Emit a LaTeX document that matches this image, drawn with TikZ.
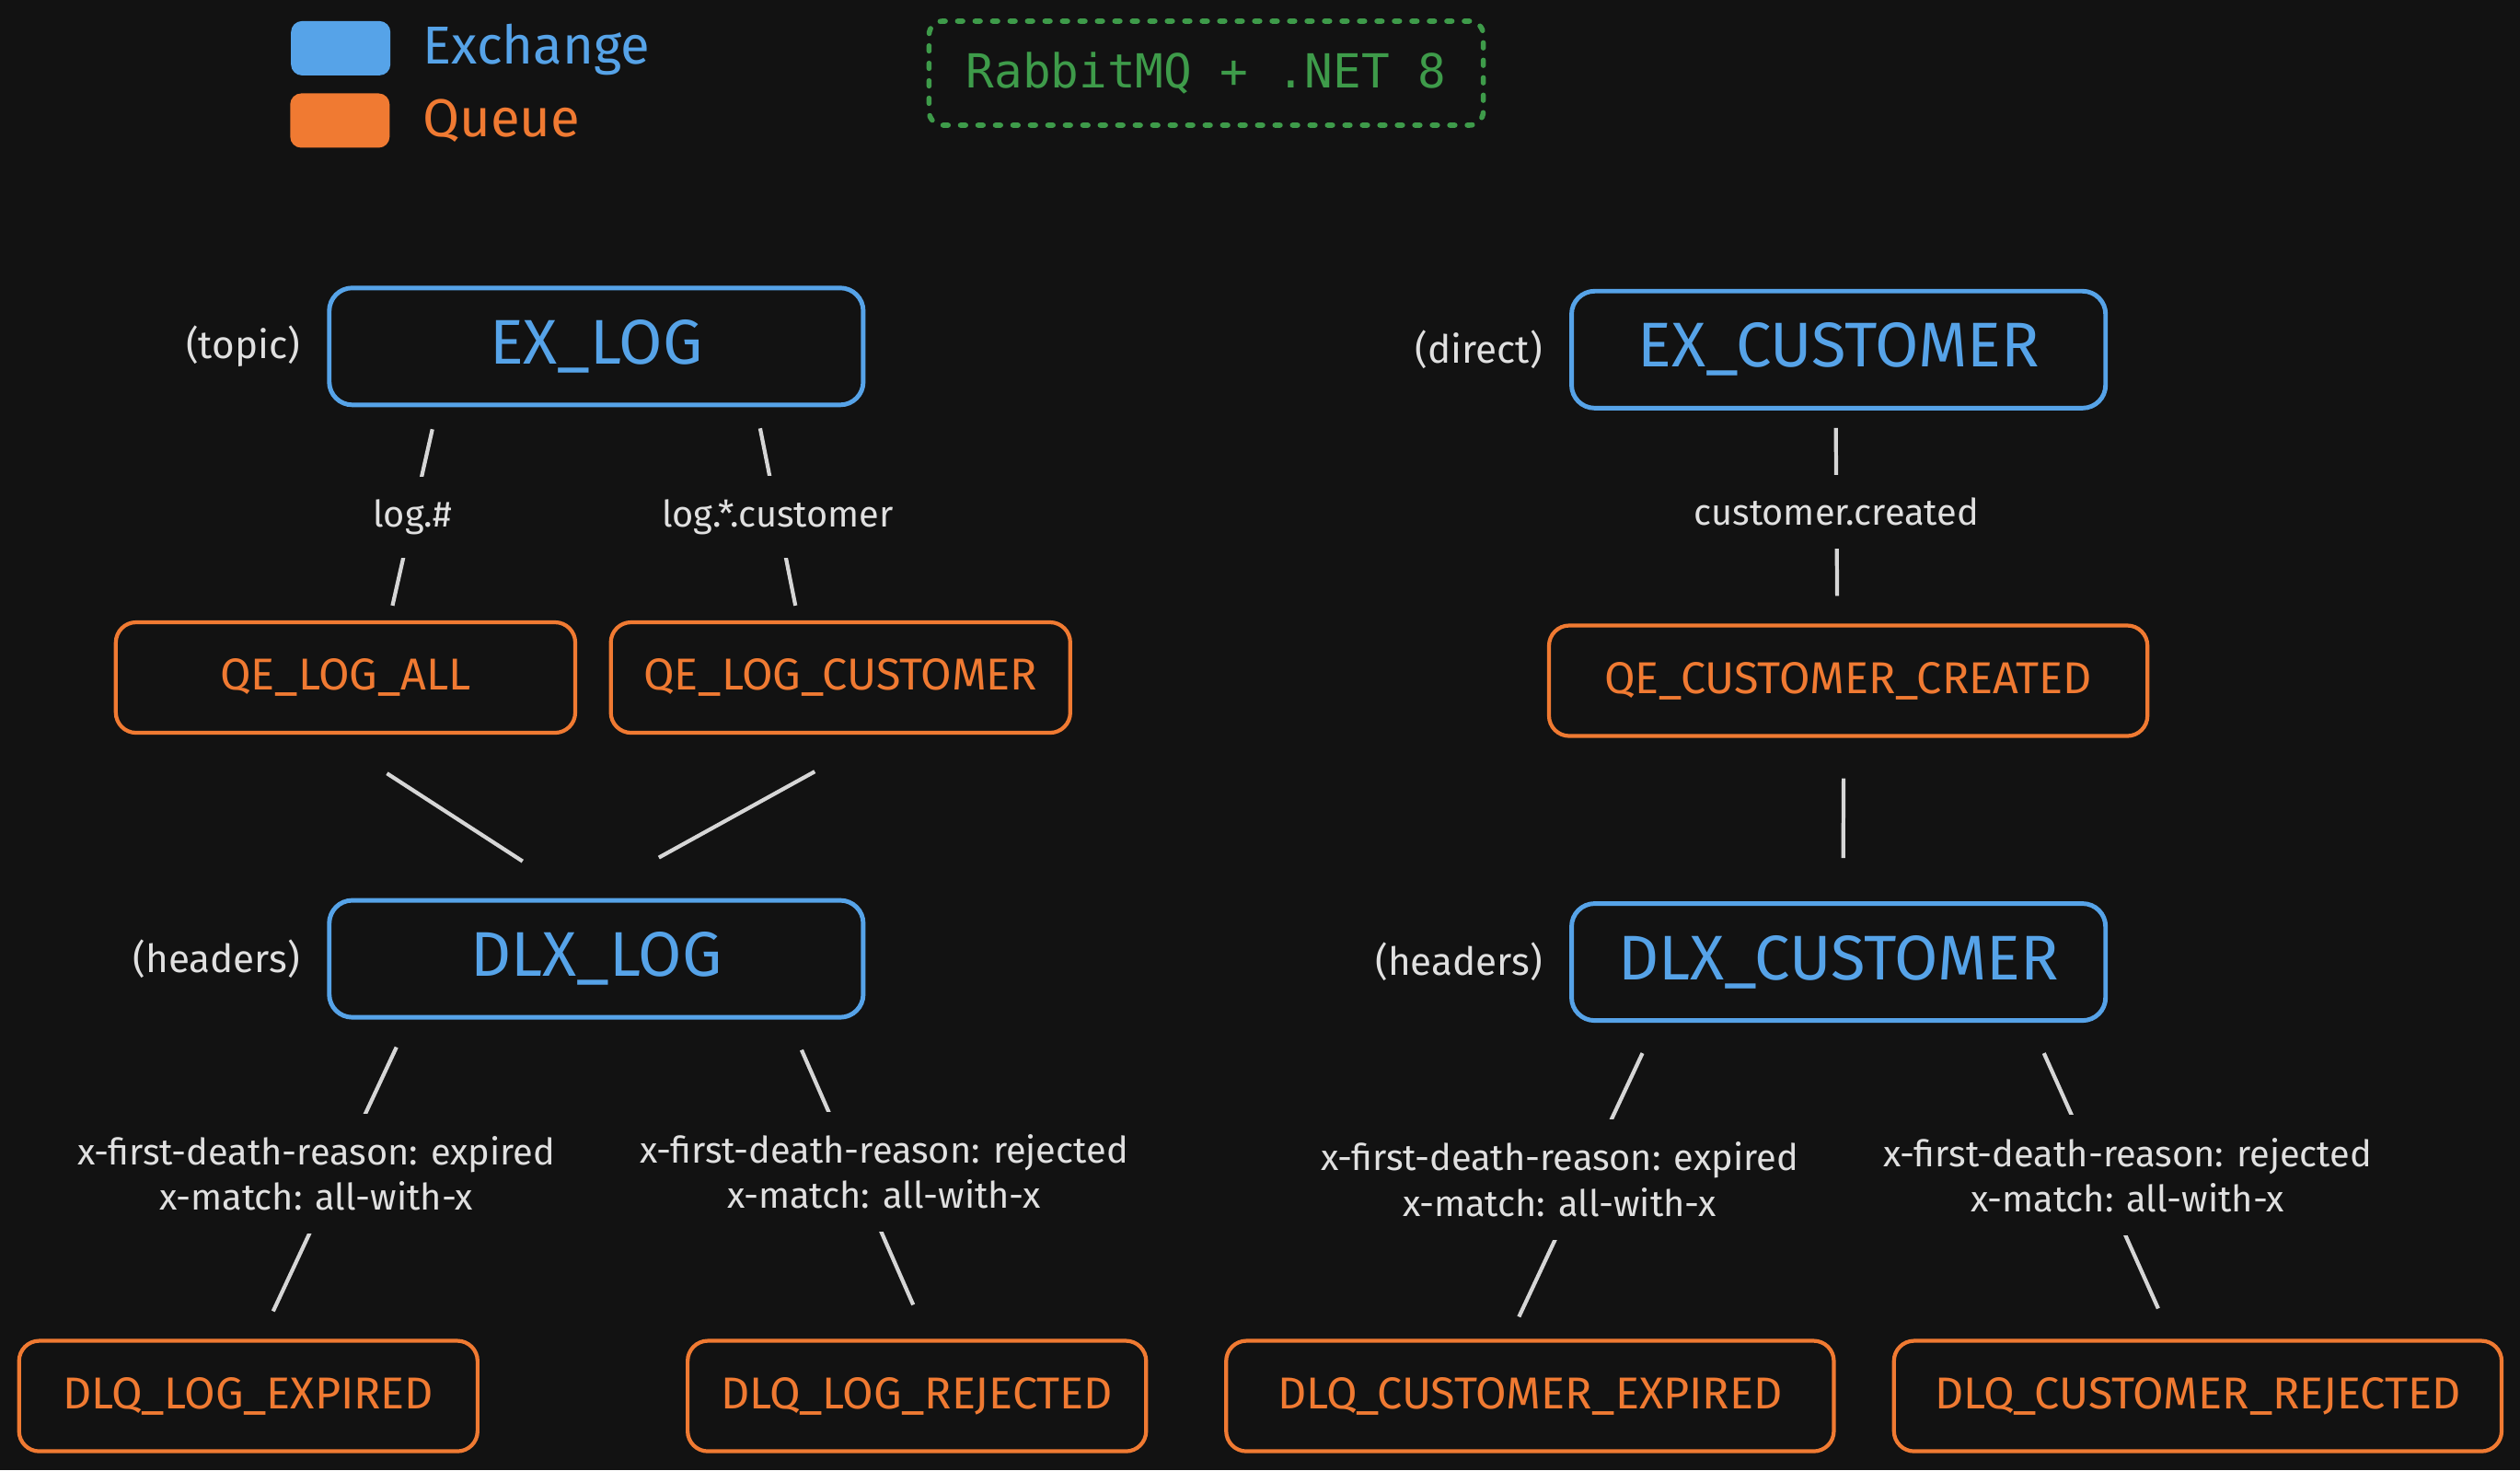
\documentclass[tikz,border=0pt]{standalone}
\usepackage{fontspec}
\setmainfont{Fira Sans}
\newfontfamily\titlefont{DejaVu Sans Mono}
\definecolor{bgdark}{HTML}{121212}
\definecolor{exblue}{HTML}{56A3E8}
\definecolor{qorange}{HTML}{F07A32}
\definecolor{titlegreen}{HTML}{3E9B4A}
\definecolor{linkgrey}{HTML}{D6D6D6}
\definecolor{labelgrey}{HTML}{E0E0E0}

\begin{document}
\begin{tikzpicture}[x=0.017462cm, y=-0.017462cm]

      \tikzset{exchange/.style={draw=exblue, line width=1.4pt, rounded corners=0.25cm, minimum width=5.8cm, minimum height=1.27cm, text=exblue, font=\fontsize{19.5}{23}\selectfont},
               queue/.style={draw=qorange, line width=1.2pt, rounded corners=0.22cm, minimum height=1.2cm, text=qorange, font=\fontsize{13.8}{16}\selectfont},
               kind/.style={text=labelgrey, label distance=0.17cm, font=\fontsize{12}{14}\selectfont},
               link/.style={draw=linkgrey, line width=1.2pt},
               key/.style={fill=bgdark, text=labelgrey, inner xsep=2pt, inner ysep=0.25cm, align=center, font=\fontsize{11.3}{14}\selectfont},
               legsquare/.style={minimum width=1.08cm, minimum height=0.59cm, rounded corners=0.12cm, inner sep=0pt},
               legtext/.style={anchor=west, font=\fontsize{16.5}{19}\selectfont}}

      \fill[bgdark] (0,0) rectangle (1568,914.6);
      \useasboundingbox (0,0) rectangle (1568,914.6);

%% Legend and title
      	\node[legsquare, fill=exblue] (legex) at (212,30) {};
      	\node[legtext, text=exblue] (legextext) at (256,31) {Exchange};
      	\node[legsquare, fill=qorange] (legq) at (211.5,75) {};
      	\node[legtext, text=qorange] (legqtext) at (256,75) {Queue};
      	\node[draw=titlegreen, line width=1.6pt, dash pattern=on 1.6pt off 3.8pt, line cap=round, rounded corners=0.15cm, minimum width=6.02cm, minimum height=1.13cm, text=titlegreen, font=\titlefont\fontsize{14.5}{17}\selectfont] (title) at (750.5,45.5) {RabbitMQ + .NET 8};

%% Exchanges
      	\node[exchange, label={[kind]left:(topic)}] (exlog) at (371,215.5) {EX\_LOG};
      	\node[exchange, label={[kind]left:(direct)}] (excust) at (1144,217.5) {EX\_CUSTOMER};
      	\node[exchange, label={[kind]left:(headers)}] (dlxlog) at (371,596.5) {DLX\_LOG};
      	\node[exchange, label={[kind]left:(headers)}] (dlxcust) at (1144,598.5) {DLX\_CUSTOMER};

%% Queues
      	\node[queue, minimum width=4.99cm] (qall) at (215,421.5) {QE\_LOG\_ALL};
      	\node[queue, minimum width=4.99cm] (qlcust) at (523,421.5) {QE\_LOG\_CUSTOMER};
      	\node[queue, minimum width=6.5cm] (qcreated) at (1150,423.5) {QE\_CUSTOMER\_CREATED};
      	\node[queue, minimum width=4.98cm] (dlqlexp) at (154.5,868.5) {DLQ\_LOG\_EXPIRED};
      	\node[queue, minimum width=4.98cm] (dlqlrej) at (570.5,868.5) {DLQ\_LOG\_REJECTED};
      	\node[queue, minimum width=6.6cm] (dlqcexp) at (952,868.5) {DLQ\_CUSTOMER\_EXPIRED};
      	\node[queue, minimum width=6.6cm] (dlqcrej) at (1367.5,868.5) {DLQ\_CUSTOMER\_REJECTED};

%Bindings
		\path[link] ([xshift=-1.78cm, yshift=-0.24cm]exlog.south) edge node[key, midway] {log.\#} ([xshift=0.51cm, yshift=0.16cm]qall.north);
		\path[link] ([xshift=1.78cm, yshift=-0.23cm]exlog.south) edge node[key, midway] {log.*.customer} ([xshift=-0.49cm, yshift=0.16cm]qlcust.north);
		\path[link] ([xshift=-0.03cm, yshift=-0.19cm]excust.south) edge node[key, midway] {customer.created} ([xshift=-0.12cm, yshift=0.3cm]qcreated.north);
%Dead letters
		\path[link] ([xshift=0.45cm, yshift=-0.42cm]qall.south) edge ([xshift=-0.8cm, yshift=0.4cm]dlxlog.north);
		\path[link] ([xshift=-0.28cm, yshift=-0.4cm]qlcust.south) edge ([xshift=0.68cm, yshift=0.44cm]dlxlog.north);
		\path[link] ([xshift=-0.05cm, yshift=-0.44cm]qcreated.south) edge ([xshift=0.05cm, yshift=0.47cm]dlxcust.north);
%Header bindings
		\path[link] ([xshift=-2.17cm, yshift=-0.3cm]dlxlog.south) edge node[key, midway, xshift=-0.2cm, yshift=0.06cm] {x-first-death-reason: expired\\x-match: all-with-x} ([xshift=0.27cm, yshift=0.3cm]dlqlexp.north);
		\path[link] ([xshift=2.23cm, yshift=-0.33cm]dlxlog.south) edge node[key, midway, xshift=0.29cm, yshift=0.06cm] {x-first-death-reason: rejected\\x-match: all-with-x} ([xshift=-0.04cm, yshift=0.37cm]dlqlrej.north);
		\path[link] ([xshift=-2.13cm, yshift=-0.33cm]dlxcust.south) edge node[key, midway, xshift=-0.23cm, yshift=0.06cm] {x-first-death-reason: expired\\x-match: all-with-x} ([xshift=-0.12cm, yshift=0.24cm]dlqcexp.north);
		\path[link] ([xshift=2.23cm, yshift=-0.33cm]dlxcust.south) edge node[key, midway, xshift=0.29cm, yshift=0.06cm] {x-first-death-reason: rejected\\x-match: all-with-x} ([xshift=-0.43cm, yshift=0.33cm]dlqcrej.north);

	\end{tikzpicture}
\end{document}
